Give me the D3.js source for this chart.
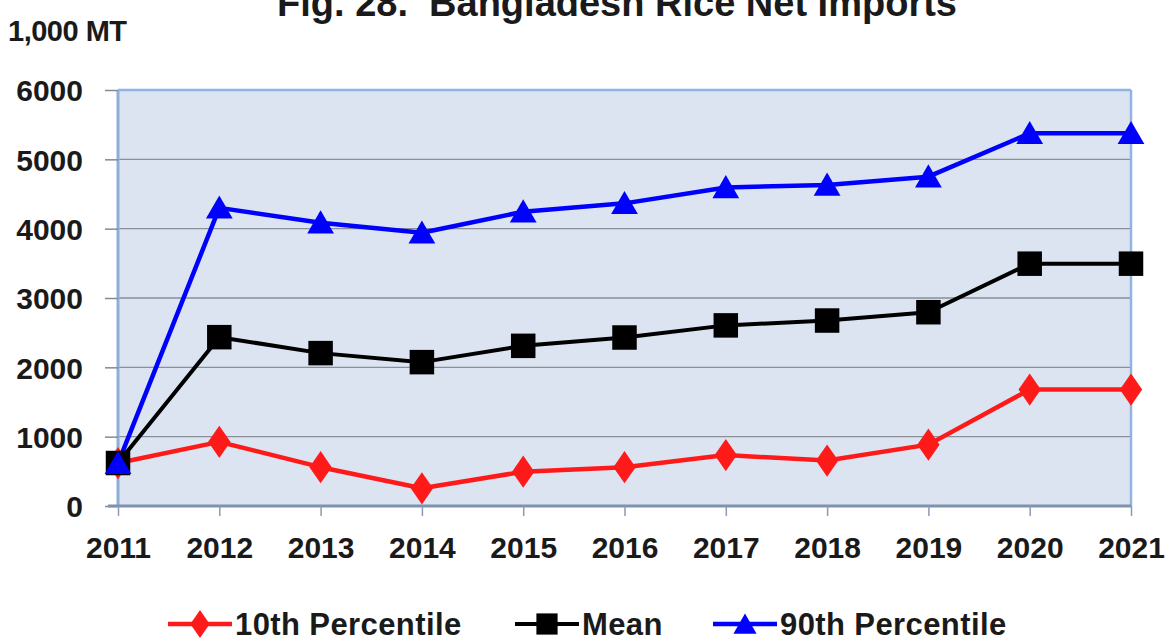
<!DOCTYPE html>
<html><head><meta charset="utf-8">
<script src="https://cdn.jsdelivr.net/npm/d3@7/dist/d3.min.js"></script>
<style>
html,body{margin:0;padding:0;background:#fff;}
svg{display:block;}
</style></head>
<body><svg id="c" width="1168" height="642"></svg>
<script>
const years = ["2011","2012","2013","2014","2015","2016","2017","2018","2019","2020","2021"];
const p10 = [620, 925, 560, 255, 495, 560, 735, 655, 885, 1680, 1680];
const mean = [620, 2435, 2205, 2075, 2310, 2430, 2605, 2675, 2795, 3495, 3495];
const p90 = [615, 4300, 4085, 3940, 4245, 4365, 4595, 4630, 4750, 5375, 5375];
const yTicks = [0, 1000, 2000, 3000, 4000, 5000, 6000];
const seriesNames = ["10th Percentile", "Mean", "90th Percentile"];

const svg = d3.select("#c");
const m = {l:118, r:1131, t:90, b:506};
const x = d3.scalePoint().domain(years).range([m.l, m.r]);
const y = d3.scaleLinear().domain([0, 6000]).range([m.b, m.t]);
const font = "'Liberation Sans', Arial, sans-serif";

// plot background
svg.append("rect").attr("x", m.l).attr("y", m.t).attr("width", m.r - m.l).attr("height", m.b - m.t).attr("fill","#dbe4f0");

// gridlines
svg.append("g").selectAll("line").data(yTicks.filter(d => d > 0)).join("line")
  .attr("x1", m.l).attr("x2", m.r).attr("y1", d => y(d)).attr("y2", d => y(d))
  .attr("stroke", "#8a8f98").attr("stroke-width", 1.3);

// plot border (light blue)
svg.append("line").attr("x1", m.l).attr("x2", m.l).attr("y1", m.t).attr("y2", m.b).attr("stroke","#8eb0d8").attr("stroke-width",3);
svg.append("line").attr("x1", m.r).attr("x2", m.r).attr("y1", m.t).attr("y2", m.b).attr("stroke","#8eb4e3").attr("stroke-width",2.5);
svg.append("line").attr("x1", m.l).attr("x2", m.r).attr("y1", m.t).attr("y2", m.t).attr("stroke","#8eb4e3").attr("stroke-width",2.5);

// y axis
const yAxis = d3.axisLeft(y).tickValues(yTicks).tickSize(13).tickPadding(22).tickFormat(d3.format("d"));
const gy = svg.append("g").attr("transform", `translate(${m.l},0)`).call(yAxis);
gy.select(".domain").remove();
gy.selectAll(".tick line").attr("stroke","#7f8a99").attr("stroke-width",1.5);
gy.selectAll("text").attr("font-family", font).attr("font-weight","bold").attr("font-size", 30).attr("fill","#1a1a1a").attr("dy","0.36em");

// x axis
const xAxis = d3.axisBottom(x).tickSize(10).tickPadding(21);
const gx = svg.append("g").attr("transform", `translate(0,${m.b})`).call(xAxis);
gx.select(".domain").attr("stroke","#7f92ad").attr("stroke-width",3).attr("d", `M${m.l - 10},0H${m.r}`);
gx.selectAll(".tick line").attr("stroke","#8a9bb5").attr("stroke-width",1.5);
gx.selectAll("text").attr("font-family", font).attr("font-weight","bold").attr("font-size", 30).attr("fill","#1a1a1a").attr("dy","0.71em");

// series
const colors = ["#ff1a1a", "#000000", "#0000ff"];
const data = [p10, mean, p90];
const widths = [4.5, 4, 4.5];
const line = d3.line().x((d,i) => x(years[i])).y(d => y(d));
const symbols = [d3.symbolDiamond, d3.symbolSquare, d3.symbolTriangle];
const symSize = [300, 600, 310];

data.forEach((s, k) => {
  svg.append("path").datum(s).attr("d", line).attr("fill","none").attr("stroke", colors[k]).attr("stroke-width", widths[k]).attr("stroke-linejoin","round");
});
data.forEach((s, k) => {
  const sym = d3.symbol().type(symbols[k]).size(symSize[k]);
  svg.append("g").selectAll("path").data(s).join("path")
    .attr("d", sym)
    .attr("transform", (d,i) => `translate(${x(years[i])},${y(d) + (k===2 ? 3 : 0)})${k===0 ? " scale(1.2,1)" : ""}`)
    .attr("fill", colors[k]);
});

// title (cropped at the top edge as in the reference)
svg.append("text").attr("x", 617).attr("y", 16).attr("text-anchor","middle")
  .style("white-space","pre")
  .attr("font-family", font).attr("font-weight","bold").attr("font-size", 38).attr("fill","#1a1a1a")
  .text("Fig. 28.  Bangladesh Rice Net Imports");
svg.append("text").attr("x", 8).attr("y", 41)
  .attr("font-family", font).attr("font-weight","bold").attr("font-size", 29).attr("fill","#1a1a1a").attr("letter-spacing", -0.5)
  .text("1,000 MT");

// legend
const legX = [168, 515, 713];
seriesNames.forEach((n, k) => {
  const g = svg.append("g").attr("transform", `translate(${legX[k]},624)`);
  g.append("line").attr("x1",0).attr("x2",64).attr("stroke", colors[k]).attr("stroke-width", widths[k]);
  const sym = d3.symbol().type(symbols[k]).size(symSize[k]*0.75);
  g.append("path").attr("d", sym).attr("transform", `translate(32,${k===2?3:0})${k===0?" scale(1.2,1)":""}`).attr("fill", colors[k]);
  g.append("text").attr("x", 67).attr("y", 0).attr("dy","0.36em")
    .attr("font-family", font).attr("font-weight","bold").attr("font-size", 31).attr("fill","#1a1a1a").attr("letter-spacing", 0.4)
    .text(n);
});
</script></body></html>
